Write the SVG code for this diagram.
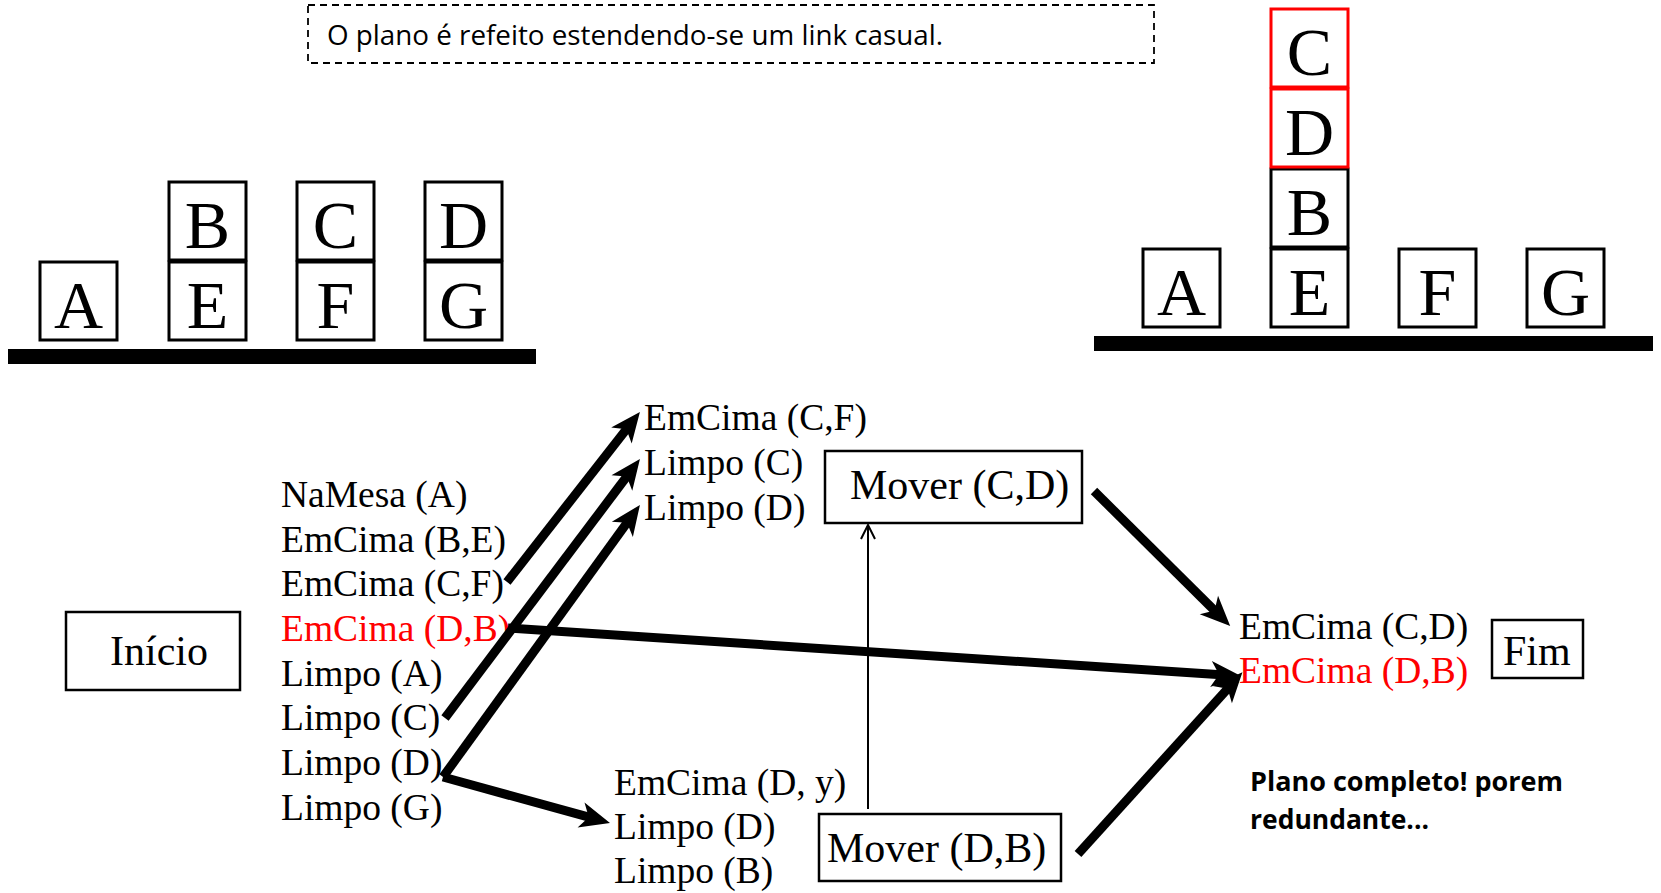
<svg xmlns="http://www.w3.org/2000/svg" width="1661" height="893" viewBox="0 0 1661 893">
<style>
.blk{fill:#fff;stroke:#000;stroke-width:3}
.red{fill:#fff;stroke:#f00;stroke-width:3}
.bl{font-family:"Liberation Serif","Times New Roman",serif;font-size:68px;fill:#000;text-anchor:middle}
.t{font-family:"Liberation Serif","Times New Roman",serif;font-size:37.5px;fill:#000}
.tb{font-family:"Liberation Serif","Times New Roman",serif;font-size:42px;fill:#000}
.r{fill:#f00}
.box{fill:#fff;stroke:#000;stroke-width:2.5}
.thick{fill:none;stroke:#000;stroke-width:9;marker-end:url(#ah)}
.thin{fill:none;stroke:#000;stroke-width:2}
.sans{font-family:"Open Sans","Liberation Sans",sans-serif;fill:#000}
</style>
<defs>
<marker id="ah" markerUnits="userSpaceOnUse" viewBox="-12 -15 34 30" markerWidth="34" markerHeight="30" refX="0" refY="0" orient="auto">
<path d="M20,0 L-10,-13 L-2,0 L-10,13 Z" fill="#000"/>
</marker>
</defs>
<rect width="1661" height="893" fill="#fff"/>

<g id="note">
<rect x="308" y="5" width="846" height="58" fill="none" stroke="#000" stroke-width="1.8" stroke-dasharray="7,5"/>
<text class="sans" x="327" y="45" font-size="28" textLength="616" lengthAdjust="spacingAndGlyphs">O plano é refeito estendendo-se um link casual.</text>
</g>

<g id="initial-state">
<rect x="8" y="349" width="528" height="15" fill="#000"/>
<rect class="blk" x="40" y="262" width="77" height="78"/><text class="bl" x="78.5" y="328">A</text>
<rect class="blk" x="169" y="182" width="77" height="78"/><text class="bl" x="207.5" y="248">B</text>
<rect class="blk" x="169" y="262" width="77" height="78"/><text class="bl" x="207.5" y="328">E</text>
<rect class="blk" x="297" y="182" width="77" height="78"/><text class="bl" x="335.5" y="248">C</text>
<rect class="blk" x="297" y="262" width="77" height="78"/><text class="bl" x="335.5" y="328">F</text>
<rect class="blk" x="425" y="182" width="77" height="78"/><text class="bl" x="463.5" y="248">D</text>
<rect class="blk" x="425" y="262" width="77" height="78"/><text class="bl" x="463.5" y="328">G</text>
</g>

<g id="goal-state">
<rect x="1094" y="336" width="559" height="15" fill="#000"/>
<rect class="blk" x="1143" y="249" width="77" height="78"/><text class="bl" x="1181.5" y="315">A</text>
<rect class="blk" x="1271" y="249" width="77" height="78"/><text class="bl" x="1309.5" y="315">E</text>
<rect class="blk" x="1271" y="169" width="77" height="78"/><text class="bl" x="1309.5" y="235">B</text>
<rect class="red" x="1271" y="89" width="77" height="78"/><text class="bl" x="1309.5" y="155">D</text>
<rect class="red" x="1271" y="9" width="77" height="78"/><text class="bl" x="1309.5" y="75">C</text>
<rect class="blk" x="1399" y="249" width="77" height="78"/><text class="bl" x="1437.5" y="315">F</text>
<rect class="blk" x="1527" y="249" width="77" height="78"/><text class="bl" x="1565.5" y="315">G</text>
</g>

<g id="inicio">
<rect class="box" x="66" y="612" width="174" height="78"/>
<text class="tb" x="110" y="665">Início</text>
</g>

<g id="inicio-effects">
<text class="t" x="281" y="507">NaMesa (A)</text>
<text class="t" x="281" y="552">EmCima (B,E)</text>
<text class="t" x="281" y="596">EmCima (C,F)</text>
<text class="t r" x="281" y="641">EmCima (D,B)</text>
<text class="t" x="281" y="686">Limpo (A)</text>
<text class="t" x="281" y="730">Limpo (C)</text>
<text class="t" x="281" y="775">Limpo (D)</text>
<text class="t" x="281" y="820">Limpo (G)</text>
</g>

<g id="mover-cd-pre">
<text class="t" x="644" y="430">EmCima (C,F)</text>
<text class="t" x="644" y="475">Limpo (C)</text>
<text class="t" x="644" y="520">Limpo (D)</text>
</g>

<g id="mover-cd">
<rect class="box" x="825" y="451" width="257" height="72"/>
<text class="tb" x="850" y="499">Mover (C,D)</text>
</g>

<g id="mover-db-pre">
<text class="t" x="614" y="795">EmCima (D, y)</text>
<text class="t" x="614" y="839">Limpo (D)</text>
<text class="t" x="614" y="883">Limpo (B)</text>
</g>

<g id="mover-db">
<rect class="box" x="819" y="814" width="242" height="67"/>
<text class="tb" x="827" y="862">Mover (D,B)</text>
</g>

<g id="fim-pre">
<text class="t" x="1239" y="639">EmCima (C,D)</text>
<text class="t r" x="1239" y="683">EmCima (D,B)</text>
</g>

<g id="fim">
<rect class="box" x="1492" y="620" width="91" height="58"/>
<text class="tb" x="1503" y="665">Fim</text>
</g>

<g id="comment">
<text class="sans" x="1250" y="791" font-size="26" font-weight="bold" textLength="313" lengthAdjust="spacingAndGlyphs">Plano completo! porem</text>
<text class="sans" x="1250" y="829" font-size="26" font-weight="bold" textLength="179" lengthAdjust="spacingAndGlyphs">redundante...</text>
</g>

<g id="connectors">
<path class="thick" d="M507,582 L627.6,427.7"/>
<path class="thick" d="M445,718 L627.9,475"/>
<path class="thick" d="M443,777 L628.2,521.2"/>
<path class="thick" d="M443,777 L590.7,817.7"/>
<path class="thick" d="M508,628 L1221,674.7"/>
<path class="thick" d="M1094,491 L1216,612"/>
<path class="thick" d="M1078,854 L1229,687.2"/>
<path class="thin" d="M868,809 L868,525"/>
<path class="thin" d="M861,539 L868,525 L875,539"/>
</g>
</svg>
